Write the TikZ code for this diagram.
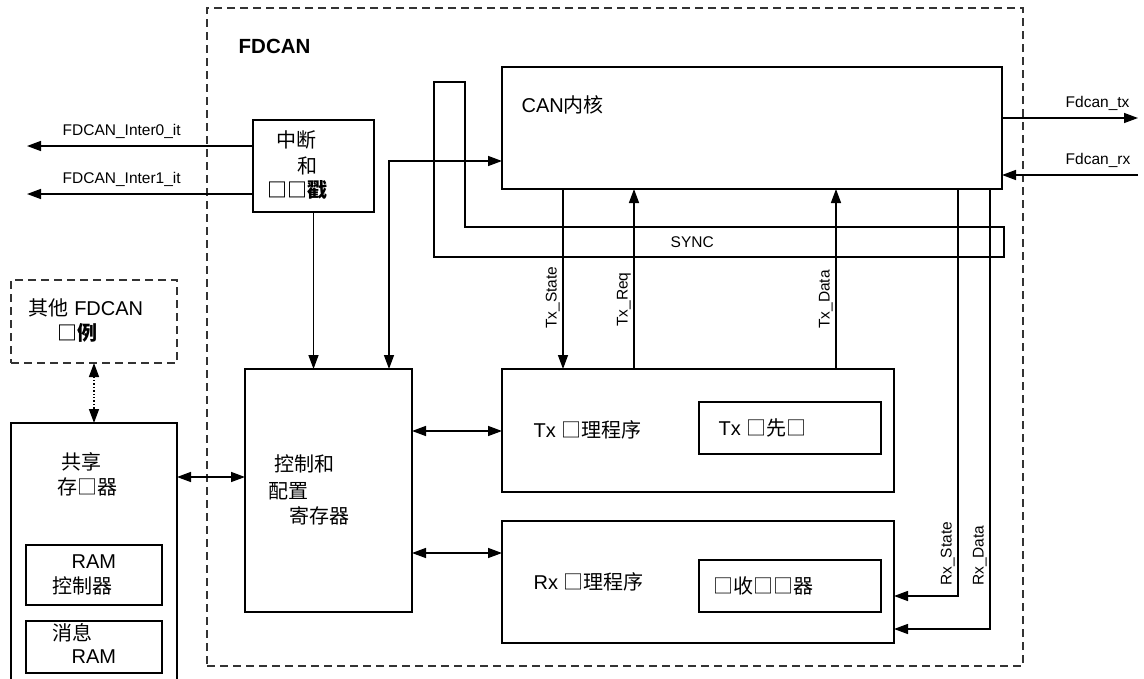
\documentclass[tikz,border=0pt]{standalone}
\usepackage{fontspec}
\setmainfont{Liberation Sans}
\newfontfamily\cjk{Noto Sans CJK SC}
\usetikzlibrary{arrows.meta,calc}
\begin{document}
\begin{tikzpicture}[x=1pt,y=-1pt,line width=1.4pt,
  box/.style={draw,inner sep=0pt,outer sep=0pt,anchor=north west},
  lbl/.style={inner sep=0pt,anchor=west,font=\fontsize{20}{24}\selectfont},
  sig/.style={inner sep=0pt,font=\fontsize{15.5}{18}\selectfont},
  vsig/.style={sig,rotate=90,anchor=south west,inner sep=1.5pt},
  tip/.tip={Triangle[length=14pt,width=10pt]},
  arr/.style={-tip},
  darr/.style={tip-tip},
  dbox/.style={draw=black!80,dash pattern=on 8pt off 5pt}]
\useasboundingbox (0,0) rectangle (1144,678);

% outer FDCAN frame
\node[box,dbox,minimum width=816pt,minimum height=658pt] (fd) at (207,8) {};
\node[lbl,font=\fontsize{20.5}{24}\selectfont\bfseries] (fdl) at (238,46) {FDCAN};

% boxes
\node[box,minimum width=121pt,minimum height=92pt] (intr) at (253,120) {};
\node[box,minimum width=500pt,minimum height=122pt] (core) at (502,67) {};
\node[box,minimum width=167pt,minimum height=243pt] (ctrl) at (245,369) {};
\node[box,minimum width=392pt,minimum height=123pt] (txh) at (502,369) {};
\node[box,minimum width=392pt,minimum height=122pt] (rxh) at (502,521) {};
\node[box,minimum width=182pt,minimum height=52pt] (txp) at (699,402) {};
\node[box,minimum width=182pt,minimum height=52pt] (rxb) at (699,560) {};
\node[box,dbox,minimum width=166pt,minimum height=83pt] (other) at (11,280) {};
\node[box,minimum width=166pt,minimum height=300pt] (shm) at (11,423) {};
\node[box,minimum width=136pt,minimum height=60pt] (ramc) at (26,545) {};
\node[box,minimum width=136pt,minimum height=52pt] (mram) at (26,621) {};

% box texts
\node[lbl] (t1) at (276,140) {\cjk 中断};
\node[lbl] (t2) at (297,166) {\cjk 和};
\node[lbl] (t3) at (267,190) {\cjk\bfseries □□戳};
\node[lbl] (t4) at (521,105) {CAN{\cjk 内核}};
\node[lbl] (t5) at (533,430) {Tx {\cjk □理程序}};
\node[lbl] (t6) at (533,582) {Rx {\cjk □理程序}};
\node[lbl] (t7) at (718,428) {Tx {\cjk □先□}};
\node[lbl] (t8) at (713,586) {\cjk □收□□器};
\node[lbl] (t9) at (274,464) {\cjk 控制和};
\node[lbl] (t10) at (268,491) {\cjk 配置};
\node[lbl] (t11) at (289,516) {\cjk 寄存器};
\node[lbl] (t12) at (28,308) {{\cjk 其他} FDCAN};
\node[lbl] (t13) at (57,333) {\cjk\bfseries □例};
\node[lbl] (t14) at (61,462) {\cjk 共享};
\node[lbl] (t15) at (57,487) {\cjk 存□器};
\node[lbl] (t16) at (71,562) {RAM};
\node[lbl] (t17) at (52,586) {\cjk 控制器};
\node[lbl] (t18) at (52,633) {\cjk 消息};
\node[lbl] (t19) at (71,657) {RAM};

% SYNC loop
\draw (434,82) -- (465,82) -- (465,227) -- (1004,227) -- (1004,257) -- (434,257) -- cycle;
\node[sig,anchor=west] (sync) at (670,242) {SYNC};

% external signals
\coordinate (i0) at (27,146);
\coordinate (i1) at (27,194);
\draw[arr] (intr.west |- i0) -- (i0);
\draw[arr] (intr.west |- i1) -- (i1);
\node[sig,anchor=west] (l0) at (62,131) {FDCAN\_Inter0\_it};
\node[sig,anchor=west] (l1) at (62,179) {FDCAN\_Inter1\_it};
\coordinate (fo) at (1138,118);
\coordinate (fi) at (1138,175);
\draw[arr] (core.east |- fo) -- (fo);
\draw[arr] (fi) -- (core.east |- fi);
\node[sig,anchor=west] (ltx) at (1065,103) {Fdcan\_tx};
\node[sig,anchor=west] (lrx) at (1065,160) {Fdcan\_rx};

% internal connections
\draw[arr] (intr.south) -- (intr.south |- ctrl.north);
\coordinate (cc) at (389,161);
\draw[darr] (ctrl.north -| cc) -- (cc) -- (core.west |- cc);

\coordinate (xs) at (563,0);
\coordinate (xq) at (634,0);
\coordinate (xd) at (836,0);
\draw[arr] (core.south -| xs) -- (txh.north -| xs);
\draw[arr] (txh.north -| xq) -- (core.south -| xq);
\draw[arr] (txh.north -| xd) -- (core.south -| xd);
\node[vsig] (lts) at (562,331) {Tx\_State};
\node[vsig] (ltq) at (633,329) {Tx\_Req};
\node[vsig] (ltd) at (835,331) {Tx\_Data};

\coordinate (rs) at (958,596);
\coordinate (rd) at (990,629);
\draw[arr] (core.south -| rs) -- (rs) -- (rxh.east |- rs);
\draw[arr] (core.south -| rd) -- (rd) -- (rxh.east |- rd);
\node[vsig] (lrs) at (957,588) {Rx\_State};
\node[vsig] (lrd) at (989,588) {Rx\_Data};

\coordinate (y1) at (0,477);
\coordinate (y2) at (0,431);
\coordinate (y3) at (0,553);
\draw[darr] (shm.east |- y1) -- (ctrl.west |- y1);
\draw[darr] (ctrl.east |- y2) -- (txh.west |- y2);
\draw[darr] (ctrl.east |- y3) -- (rxh.west |- y3);
\draw[darr,dotted] (other.south) -- (shm.north);
\end{tikzpicture}
\end{document}
